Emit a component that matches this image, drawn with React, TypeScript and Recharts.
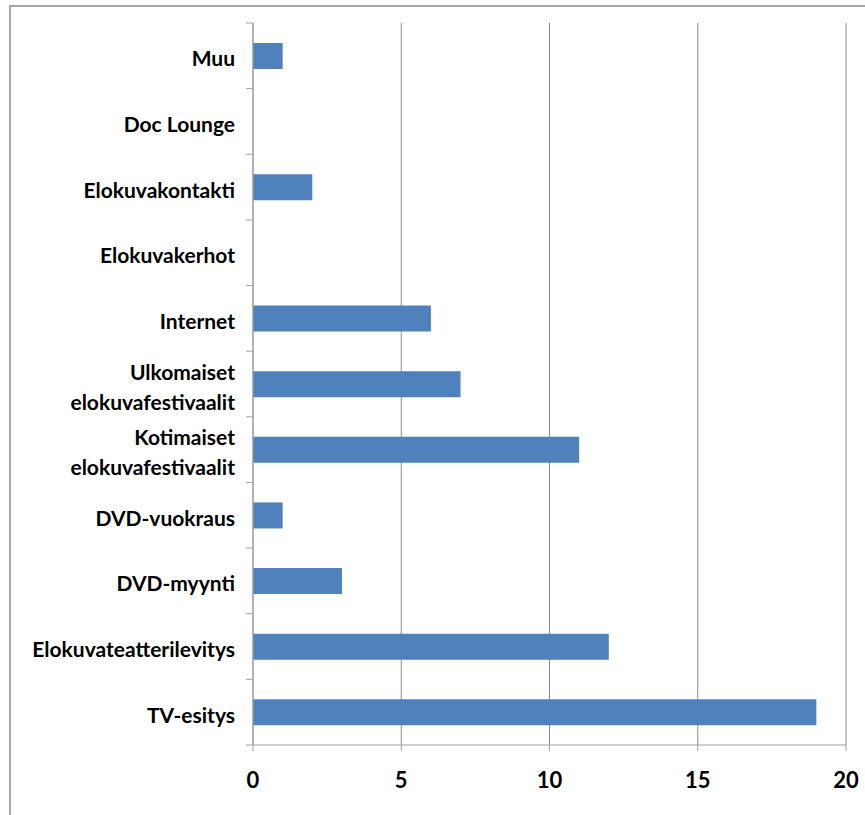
import { BarChart, Bar, XAxis, YAxis, CartesianGrid } from "recharts";

const categories = [
  "Muu",
  "Doc Lounge",
  "Elokuvakontakti",
  "Elokuvakerhot",
  "Internet",
  "Ulkomaiset elokuvafestivaalit",
  "Kotimaiset elokuvafestivaalit",
  "DVD-vuokraus",
  "DVD-myynti",
  "Elokuvateatterilevitys",
  "TV-esitys",
];
const counts = [1, 0, 2, 0, 6, 7, 11, 1, 3, 12, 19];
const xTicks = [0, 5, 10, 15, 20];

// two-line labels, the rest stay on one line
const labelLines: Record<string, string[]> = {
  "Ulkomaiset elokuvafestivaalit": ["Ulkomaiset", "elokuvafestivaalit"],
  "Kotimaiset elokuvafestivaalit": ["Kotimaiset", "elokuvafestivaalit"],
};

const data = categories.map((name, i) => ({ name, value: counts[i] }));

const WIDTH = 865;
const HEIGHT = 815;
const MARGIN = { top: 23, right: 19, bottom: 30, left: 0 };
const Y_AXIS_W = 253;
const X_AXIS_H = 40;
const PLOT_H = HEIGHT - MARGIN.top - MARGIN.bottom - X_AXIS_H;
const BAND = PLOT_H / categories.length;

const BAR_BLUE = "#4f81bd";
const AXIS_GRAY = "#a0a0a0";
const GRID_GRAY = "#8c8c8c";
const FONT = "Lato, 'Noto Sans', sans-serif";

function CategoryTick(props: any) {
  const { x, y, payload, index } = props;
  const lines = labelLines[payload.value] ?? [payload.value];
  const lineH = 30;
  const first = y + 10.5 - ((lines.length - 1) * lineH) / 2;
  return (
    <g>
      <line x1={x - 7} x2={x} y1={y - BAND / 2} y2={y - BAND / 2} stroke={AXIS_GRAY} />
      {index === categories.length - 1 && (
        <line x1={x - 7} x2={x} y1={y + BAND / 2} y2={y + BAND / 2} stroke={AXIS_GRAY} />
      )}
      {lines.map((t: string, i: number) => (
        <text
          key={i}
          x={x - 18}
          y={first + i * lineH}
          textAnchor="end"
          fontFamily={FONT}
          fontWeight={700}
          fontSize={21}
          fill="#000"
        >
          {t}
        </text>
      ))}
    </g>
  );
}

function ValueTick(props: any) {
  const { x, y, payload } = props;
  return (
    <text
      x={x}
      y={y + 36.5}
      textAnchor="middle"
      fontFamily={FONT}
      fontWeight={700}
      fontSize={22}
      fill="#000"
    >
      {payload.value}
    </text>
  );
}

export default function App() {
  return (
    <div
      style={{
        position: "absolute",
        left: 0,
        top: 0,
        width: WIDTH,
        height: HEIGHT,
        overflow: "hidden",
        background: "#fff",
      }}
    >
      <div
        style={{
          position: "absolute",
          left: 9,
          top: 5,
          width: 1000,
          height: 1000,
          border: "2px solid #a6a6a6",
        }}
      />
      <div style={{ position: "absolute", left: 0, top: 0 }}>
        <BarChart
          width={WIDTH}
          height={HEIGHT}
          data={data}
          layout="vertical"
          margin={MARGIN}
          barSize={26}
        >
          <CartesianGrid horizontal={false} stroke={GRID_GRAY} />
          <XAxis
            type="number"
            domain={[0, 20]}
            ticks={xTicks}
            height={X_AXIS_H}
            tickSize={6}
            tickMargin={0}
            stroke={AXIS_GRAY}
            tick={<ValueTick />}
          />
          <YAxis
            type="category"
            dataKey="name"
            width={Y_AXIS_W}
            tickLine={false}
            tickSize={0}
            tickMargin={0}
            stroke={AXIS_GRAY}
            interval={0}
            tick={<CategoryTick />}
          />
          <Bar dataKey="value" fill={BAR_BLUE} isAnimationActive={false} />
        </BarChart>
      </div>
    </div>
  );
}
